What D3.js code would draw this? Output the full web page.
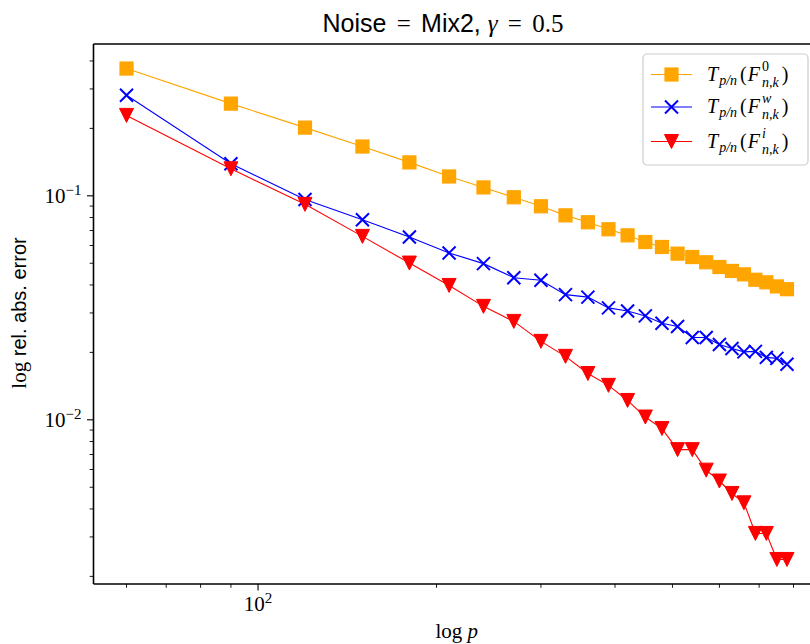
<!DOCTYPE html>
<html>
<head>
<meta charset="utf-8">
<script src="https://cdn.jsdelivr.net/npm/d3@7"></script>
<style>
  html, body { margin: 0; padding: 0; background: #fff; }
  svg { display: block; }
</style>
</head>
<body>
<svg id="chart" width="810" height="644"></svg>
<script>
// ---------------- data ----------------
const pValues = [60, 90, 120, 150, 180, 210, 240, 270, 300, 330, 360, 390, 420,
                 450, 480, 510, 540, 570, 600, 630, 660, 690, 720, 750, 780];
const errF0 = [0.370, 0.258, 0.2016, 0.166, 0.141, 0.122, 0.109, 0.0985, 0.0898,
               0.0818, 0.0762, 0.0709, 0.0666, 0.0622, 0.0591, 0.0552, 0.0533,
               0.0505, 0.0481, 0.0462, 0.0446, 0.0422, 0.0411, 0.0394, 0.0383];
const errFw = [0.281, 0.139, 0.0963, 0.0782, 0.0655, 0.0556, 0.0498, 0.0431, 0.0420,
               0.0362, 0.0353, 0.0316, 0.0306, 0.0291, 0.0270, 0.0261, 0.0233,
               0.0233, 0.0217, 0.0208, 0.0201, 0.0202, 0.0190, 0.0188, 0.0177];
const errFi = [0.2286, 0.132, 0.0916, 0.0659, 0.0501, 0.0398, 0.0321, 0.0275, 0.0224,
               0.0192, 0.0161, 0.01425, 0.0122, 0.01029, 0.00914, 0.00736, 0.00736,
               0.00596, 0.00533, 0.00469, 0.00426, 0.00311, 0.00311, 0.00238, 0.00238];
const seriesNames = ["F0", "Fw", "Fi"];
const seriesSup = ["0", "w", "i"];
const majorXTicks = [100];
const majorYTicks = [0.01, 0.1];

// ---------------- layout ----------------
const svg = d3.select("#chart");
const plot = { left: 93.5, right: 820, top: 44, bottom: 584 };
const SERIF = "'Liberation Serif', 'DejaVu Serif', serif";
const SANS = "'Liberation Sans', 'DejaVu Sans', sans-serif";

function logPad(lo, hi) {
  const a = Math.log10(lo), b = Math.log10(hi), m = (b - a) * 0.05;
  return [Math.pow(10, a - m), Math.pow(10, b + m)];
}
const allY = errF0.concat(errFw, errFi);
const x = d3.scaleLog().domain(logPad(d3.min(pValues), d3.max(pValues))).range([plot.left, plot.right]);
const y = d3.scaleLog().domain(logPad(d3.min(allY), d3.max(allY))).range([plot.bottom, plot.top]);

const series = [
  { name: seriesNames[0], values: errF0, color: "#FFA500", marker: "square" },
  { name: seriesNames[1], values: errFw, color: "#0000FF", marker: "x" },
  { name: seriesNames[2], values: errFi, color: "#FF0000", marker: "tri" }
];

// clip
svg.append("defs").append("clipPath").attr("id", "clip")
  .append("rect").attr("x", plot.left).attr("y", plot.top)
  .attr("width", plot.right - plot.left).attr("height", plot.bottom - plot.top);

function drawMarker(g, type, color) {
  if (type === "square") {
    g.append("rect").attr("x", -6.5).attr("y", -6.5).attr("width", 13).attr("height", 13)
      .attr("fill", color).attr("stroke", color).attr("stroke-width", 1.2);
  } else if (type === "x") {
    g.append("path").attr("d", "M-6.5,-6.5L6.5,6.5M-6.5,6.5L6.5,-6.5")
      .attr("stroke", color).attr("stroke-width", 2).attr("fill", "none");
  } else {
    g.append("path").attr("d", "M-7,-7L7,-7L0,7Z")
      .attr("fill", color).attr("stroke", color).attr("stroke-width", 1);
  }
}

const dataG = svg.append("g").attr("clip-path", "url(#clip)");
series.forEach(s => {
  const pts = pValues.map((p, i) => [x(p), y(s.values[i])]);
  dataG.append("path").attr("d", d3.line()(pts))
    .attr("fill", "none").attr("stroke", s.color).attr("stroke-width", 1.1);
  pts.forEach(pt => {
    const g = dataG.append("g").attr("transform", `translate(${pt[0]},${pt[1]})`);
    drawMarker(g, s.marker, s.color);
  });
});

// ---------------- axes ----------------
const axesG = svg.append("g");
const xTicks = x.ticks().filter(t => t >= x.domain()[0] && t <= x.domain()[1]);
xTicks.forEach(t => {
  const major = majorXTicks.includes(t);
  axesG.append("line").attr("x1", x(t)).attr("x2", x(t))
    .attr("y1", plot.bottom).attr("y2", plot.bottom + (major ? 6.5 : 3.8))
    .attr("stroke", "#000").attr("stroke-width", major ? 1.1 : 0.9);
});
const yTicks = y.ticks().filter(t => t >= y.domain()[0] && t <= y.domain()[1]);
yTicks.forEach(t => {
  const major = majorYTicks.some(m => Math.abs(m - t) / m < 1e-6);
  axesG.append("line").attr("y1", y(t)).attr("y2", y(t))
    .attr("x1", plot.left).attr("x2", plot.left - (major ? 6.5 : 3.8))
    .attr("stroke", "#000").attr("stroke-width", major ? 1.1 : 0.9);
});

// spines
[[plot.left, plot.left, plot.top, plot.bottom],
 [plot.left, plot.right, plot.bottom, plot.bottom],
 [plot.left, plot.right, plot.top, plot.top],
 [plot.right, plot.right, plot.top, plot.bottom]].forEach(l => {
  axesG.append("line").attr("x1", l[0]).attr("x2", l[1]).attr("y1", l[2]).attr("y2", l[3])
    .attr("stroke", "#000").attr("stroke-width", 1.6);
});

// tick labels
majorXTicks.forEach(t => {
  const e = Math.round(Math.log10(t));
  const tx = axesG.append("text").attr("x", x(t)).attr("y", plot.bottom + 27)
    .attr("text-anchor", "middle").attr("font-family", SERIF).attr("font-size", 21);
  tx.append("tspan").text("10");
  tx.append("tspan").attr("font-size", 15).attr("dy", -8).text(String(e));
});
majorYTicks.forEach(t => {
  const e = Math.round(Math.log10(t));
  const tx = axesG.append("text").attr("x", plot.left - 12).attr("y", y(t) + 7)
    .attr("text-anchor", "end").attr("font-family", SERIF).attr("font-size", 21);
  tx.append("tspan").text("10");
  tx.append("tspan").attr("font-size", 15).attr("dy", -8).text("\u2212" + Math.abs(e));
});

// axis labels
const xl = svg.append("text").attr("x", (plot.left + plot.right) / 2).attr("y", 638)
  .attr("text-anchor", "middle").attr("font-family", SERIF).attr("font-size", 21);
xl.append("tspan").text("log ");
xl.append("tspan").attr("font-style", "italic").text("p");

const ylx = 26, yly = (plot.top + plot.bottom) / 2 - 1;
const yl = svg.append("text").attr("transform", `translate(${ylx},${yly}) rotate(-90)`)
  .attr("text-anchor", "middle").attr("font-size", 20);
yl.append("tspan").attr("font-family", SERIF).attr("font-size", 21).text("log");
yl.append("tspan").attr("font-family", SANS).text(" rel. abs. error");

// title
const tt = svg.append("text").attr("x", 443).attr("y", 32).attr("text-anchor", "middle").attr("font-size", 25);
tt.append("tspan").attr("font-family", SANS).text("Noise");
tt.append("tspan").attr("font-family", SERIF).attr("dx", 4).text(" = ");
tt.append("tspan").attr("font-family", SANS).attr("dx", 4).text("Mix2, ");
tt.append("tspan").attr("font-family", SERIF).attr("font-style", "italic").text("\u03B3");
tt.append("tspan").attr("font-family", SERIF).attr("dx", 4).text(" = ");
tt.append("tspan").attr("font-family", SERIF).attr("dx", 4).text("0.5");

// ---------------- legend ----------------
const leg = svg.append("g");
leg.append("rect").attr("x", 643).attr("y", 54).attr("width", 165).attr("height", 111)
  .attr("rx", 4).attr("ry", 4).attr("fill", "#fff").attr("fill-opacity", 0.8)
  .attr("stroke", "#cccccc").attr("stroke-width", 1.2);

// one text element per label, pieces as tspans with absolute x computed by measuring
function mathText(g, x0, y0, parts) {
  const t = g.append("text").attr("y", y0).attr("font-family", SERIF).attr("font-size", 20);
  let cx = x0;
  parts.forEach(p => {
    if (p.stack) {
      const widths = p.stack.map(q => {
        const ts = t.append("tspan").attr("x", cx).attr("y", y0 + q.dy)
          .attr("font-size", q.size).attr("font-style", q.italic ? "italic" : "normal").text(q.s);
        return ts.node().getComputedTextLength();
      });
      cx += d3.max(widths) + (p.gap || 0);
    } else {
      const ts = t.append("tspan").attr("x", cx).attr("y", y0 + (p.dy || 0))
        .attr("font-size", p.size || 20).attr("font-style", p.italic ? "italic" : "normal").text(p.s);
      cx += ts.node().getComputedTextLength() + (p.gap || 0);
    }
  });
}

const rowsY = [74.5, 107, 141.5];
series.forEach((s, i) => {
  const ry = rowsY[i];
  leg.append("line").attr("x1", 651).attr("x2", 692).attr("y1", ry).attr("y2", ry)
    .attr("stroke", s.color).attr("stroke-width", 1.1);
  const mg = leg.append("g").attr("transform", `translate(671.5,${ry})`);
  drawMarker(mg, s.marker, s.color);
  mathText(leg, 707, ry + 6, [
    { s: "T", italic: true, gap: 1 },
    { s: "p/n", italic: true, size: 14, dy: 4, gap: 3 },
    { s: "(", italic: false, gap: 1 },
    { s: "F", italic: true, gap: 2 },
    { stack: [ { s: seriesSup[i], italic: i > 0, size: 14, dy: -10 },
               { s: "n,k", italic: true, size: 14, dy: 6 } ], gap: 3 },
    { s: ")", italic: false }
  ]);
});
</script>
</body>
</html>
